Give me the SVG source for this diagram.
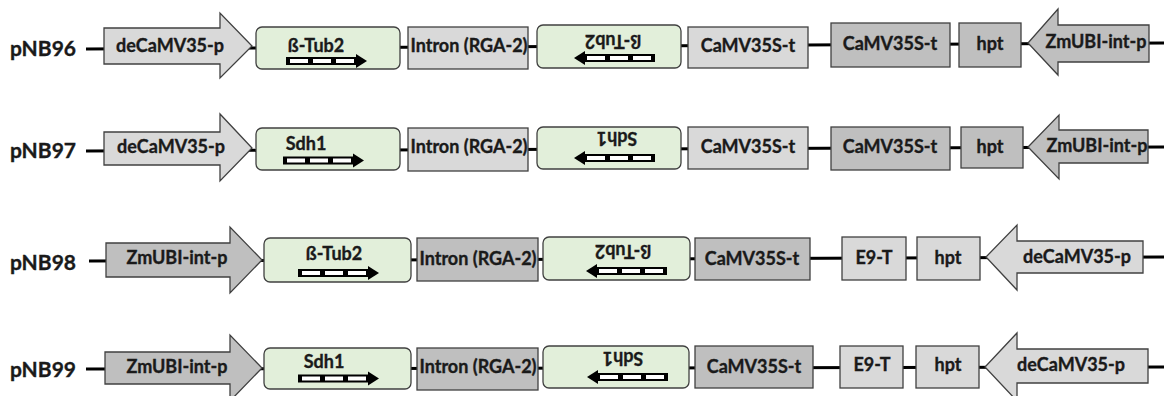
<svg xmlns="http://www.w3.org/2000/svg" width="1164" height="396" viewBox="0 0 1164 396">
<style>
.bb{stroke:#000;stroke-width:3;fill:none}
.lt{fill:#d9d9d9;stroke:#404040;stroke-width:1.3}
.dk{fill:#bfbfbf;stroke:#404040;stroke-width:1.3}
.gn{fill:#e2efda;stroke:#404040;stroke-width:1.3}
text{font-family:Lato,"Open Sans","Liberation Sans",sans-serif;font-weight:bold;fill:#1a1a1a;stroke:#1a1a1a;stroke-width:0.35}
.t{font-size:18px;text-anchor:middle}
.lab{font-size:21px}
</style>
<defs>
<g id="bar">
<rect x="0" y="-4" width="72" height="8" fill="#000"/>
<rect x="4" y="-2" width="18" height="4" fill="#fff"/>
<rect x="27" y="-2" width="18" height="4" fill="#fff"/>
<rect x="50" y="-2" width="18" height="4" fill="#fff"/>
<polygon points="70,-7 81,0 70,7" fill="#000"/>
</g>
</defs>
<g id="connectors">
<line class="bb" x1="86" y1="49" x2="1164" y2="43"/>
<line class="bb" x1="86" y1="151" x2="1164" y2="147"/>
<line class="bb" x1="89" y1="261" x2="1164" y2="257"/>
<line class="bb" x1="86" y1="369" x2="1164" y2="367"/>
</g>
<!-- Row 1 -->
<g id="pNB96">
<text class="lab" x="10" y="56">pNB96</text>
<g id="r1-promF"><polygon class="lt" points="104,28 220,28 220,13 252,46 220,78 220,64 104,64"/><text class="t" x="170" y="52">deCaMV35-p</text></g>
<g id="r1-geneF"><rect class="gn" x="256" y="27" width="144" height="42" rx="6"/><text class="t" x="316" y="52">ß-Tub2</text><use href="#bar" transform="translate(286,61)"/></g>
<g id="r1-intron"><rect class="lt" x="408" y="27" width="120" height="42"/><text class="t" x="469" y="52">Intron (RGA-2)</text></g>
<g id="r1-geneR"><rect class="gn" x="537" y="25" width="144" height="43" rx="6"/><text class="t" x="613" y="47.5" transform="rotate(180 613 41)">ß-Tub2</text><use href="#bar" transform="translate(655,58) scale(-1,1)"/></g>
<g id="r1-term1"><rect class="lt" x="688" y="27" width="120" height="41"/><text class="t" x="748" y="52">CaMV35S-t</text></g>
<g id="r1-term2"><rect class="dk" x="831" y="23" width="119" height="44"/><text class="t" x="890" y="50">CaMV35S-t</text></g>
<g id="r1-hpt"><rect class="dk" x="959" y="23" width="62" height="44"/><text class="t" x="990" y="50">hpt</text></g>
<g id="r1-promR"><polygon class="dk" points="1149,25 1058,25 1058,9 1028,43 1058,75 1058,62 1149,62"/><text class="t" x="1096" y="48">ZmUBI-int-p</text></g>
</g>
<!-- Row 2 -->
<g id="pNB97">
<text class="lab" x="10" y="158">pNB97</text>
<g id="r2-promF"><polygon class="lt" points="104,132 220,132 220,114 252,148 220,181 220,165 104,165"/><text class="t" x="171" y="153">deCaMV35-p</text></g>
<g id="r2-geneF"><rect class="gn" x="256" y="128" width="144" height="42" rx="6"/><text class="t" x="306" y="150">Sdh1</text><use href="#bar" transform="translate(283,160.5)"/></g>
<g id="r2-intron"><rect class="lt" x="408" y="128" width="120" height="43"/><text class="t" x="469" y="153">Intron (RGA-2)</text></g>
<g id="r2-geneR"><rect class="gn" x="537" y="127" width="144" height="42" rx="6"/><text class="t" x="617" y="145" transform="rotate(180 617 138.5)">Sdh1</text><use href="#bar" transform="translate(655,158) scale(-1,1)"/></g>
<g id="r2-term1"><rect class="lt" x="688" y="127" width="120" height="42"/><text class="t" x="748" y="153">CaMV35S-t</text></g>
<g id="r2-term2"><rect class="dk" x="831" y="127" width="119" height="43"/><text class="t" x="890" y="153">CaMV35S-t</text></g>
<g id="r2-hpt"><rect class="dk" x="961" y="127" width="62" height="41"/><text class="t" x="990" y="153">hpt</text></g>
<g id="r2-promR"><polygon class="dk" points="1148,130 1059,130 1059,115 1028,147 1059,179 1059,163 1148,163"/><text class="t" x="1097" y="152">ZmUBI-int-p</text></g>
</g>
<!-- Row 3 -->
<g id="pNB98">
<text class="lab" x="10" y="270">pNB98</text>
<g id="r3-promF"><polygon class="dk" points="106,243 230,243 230,227 262,260 230,293 230,277 106,277"/><text class="t" x="177" y="264">ZmUBI-int-p</text></g>
<g id="r3-geneF"><rect class="gn" x="264" y="238" width="147" height="44" rx="6"/><text class="t" x="334" y="260">ß-Tub2</text><use href="#bar" transform="translate(298,273)"/></g>
<g id="r3-intron"><rect class="dk" x="417" y="238" width="121" height="43"/><text class="t" x="478" y="265">Intron (RGA-2)</text></g>
<g id="r3-geneR"><rect class="gn" x="543" y="237" width="147" height="43" rx="6"/><text class="t" x="623" y="257.5" transform="rotate(180 623 251)">ß-Tub2</text><use href="#bar" transform="translate(667,271) scale(-1,1)"/></g>
<g id="r3-term"><rect class="dk" x="695" y="238" width="115" height="42"/><text class="t" x="752" y="265">CaMV35S-t</text></g>
<g id="r3-e9"><rect class="lt" x="842" y="237" width="64" height="43"/><text class="t" x="874" y="264">E9-T</text></g>
<g id="r3-hpt"><rect class="lt" x="917" y="237" width="63" height="43"/><text class="t" x="948" y="264">hpt</text></g>
<g id="r3-promR"><polygon class="lt" points="1143,241 1017,241 1017,225 986,257 1017,290 1017,273 1143,273"/><text class="t" x="1077" y="263">deCaMV35-p</text></g>
</g>
<!-- Row 4 -->
<g id="pNB99">
<text class="lab" x="10" y="377">pNB99</text>
<g id="r4-promF"><polygon class="dk" points="105,352 230,352 230,335 262,368 230,401 230,384 105,384"/><text class="t" x="177" y="373">ZmUBI-int-p</text></g>
<g id="r4-geneF"><rect class="gn" x="264" y="348" width="147" height="41" rx="6"/><text class="t" x="324" y="368">Sdh1</text><use href="#bar" transform="translate(298,378.5)"/></g>
<g id="r4-intron"><rect class="dk" x="417" y="348" width="121" height="42"/><text class="t" x="478" y="373">Intron (RGA-2)</text></g>
<g id="r4-geneR"><rect class="gn" x="543" y="346" width="146" height="42" rx="6"/><text class="t" x="623" y="365" transform="rotate(180 623 358.5)">Sdh1</text><use href="#bar" transform="translate(668,377) scale(-1,1)"/></g>
<g id="r4-term"><rect class="dk" x="695" y="346" width="118" height="42"/><text class="t" x="754" y="373">CaMV35S-t</text></g>
<g id="r4-e9"><rect class="lt" x="840" y="346" width="63" height="42"/><text class="t" x="872" y="371">E9-T</text></g>
<g id="r4-hpt"><rect class="lt" x="916" y="346" width="63" height="42"/><text class="t" x="948" y="371">hpt</text></g>
<g id="r4-promR"><polygon class="lt" points="1148,349 1017,349 1017,333 985,367 1017,401 1017,383 1148,383"/><text class="t" x="1071" y="371">deCaMV35-p</text></g>
</g>
</svg>
